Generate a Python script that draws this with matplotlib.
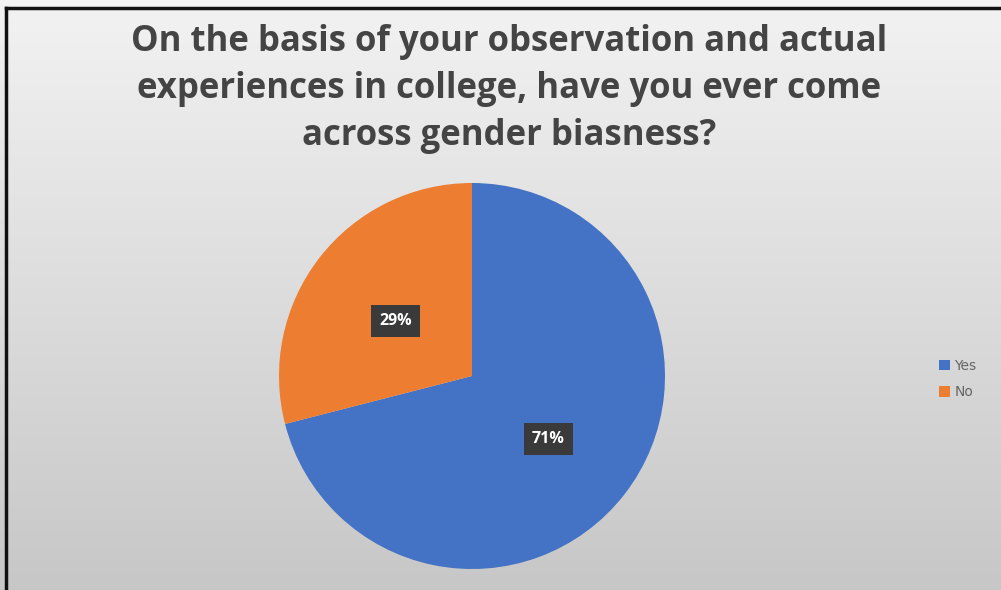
import numpy as np
import matplotlib
matplotlib.use("Agg")
import matplotlib.pyplot as plt

labels = ["Yes", "No"]
shares = [71, 29]
colors = ["#4472C4", "#ED7D31"]
title = ("On the basis of your observation and actual\n"
         "experiences in college, have you ever come\n"
         "across gender biasness?")

W, H = 1001, 590
fig = plt.figure(figsize=(W / 100, H / 100), dpi=100)

# grey gradient background
bg = fig.add_axes([0, 0, 1, 1])
grad = np.linspace(0, 1, 256).reshape(-1, 1)
top = np.array([0.95, 0.95, 0.95])
bot = np.array([0.78, 0.78, 0.78])
img = top + (bot - top) * grad[..., None]
bg.imshow(img, aspect="auto", extent=[0, W, H, 0])
bg.set_xlim(0, W)
bg.set_ylim(H, 0)
bg.plot([6, 6], [H, 7.5], color="#111111", lw=2.5)
bg.plot([6, W], [7.5, 7.5], color="#111111", lw=2.5)
bg.axis("off")

ax = fig.add_axes([0, 0, 1, 1])
cx, cy, r = 472, H - 376, 193
wedges, _ = ax.pie(shares, colors=colors, startangle=90, counterclock=False,
                   center=(cx, cy), radius=r, frame=True)
ax.set_xlim(0, W)
ax.set_ylim(0, H)
ax.set_aspect("equal")
ax.axis("off")

# percentage labels in dark boxes
for w, s in zip(wedges, shares):
    ang = np.deg2rad((w.theta1 + w.theta2) / 2)
    x = cx + 0.5 * r * np.cos(ang)
    y = cy + 0.5 * r * np.sin(ang) - 4
    ax.text(x, y, f"{s}%", color="white", fontsize=11.5, fontweight="bold",
            family="Open Sans", ha="center", va="center",
            bbox=dict(boxstyle="square,pad=0.5", fc="#3a3a3a", ec="none"))

fig.text(0.509, 1 - 89 / H, title, ha="center", va="center", fontsize=25,
         fontweight="bold", family="Open Sans", color="#444444",
         linespacing=1.4)

leg = ax.legend(wedges, labels, loc="center left", bbox_to_anchor=(932 / W, 1 - 379 / H),
                bbox_transform=fig.transFigure, frameon=False, fontsize=10,
                handlelength=0.8, handleheight=0.8, handletextpad=0.3,
                labelspacing=0.9, borderpad=0)
for t in leg.get_texts():
    t.set_color("#666666")

fig.savefig("out.png", dpi=100)
